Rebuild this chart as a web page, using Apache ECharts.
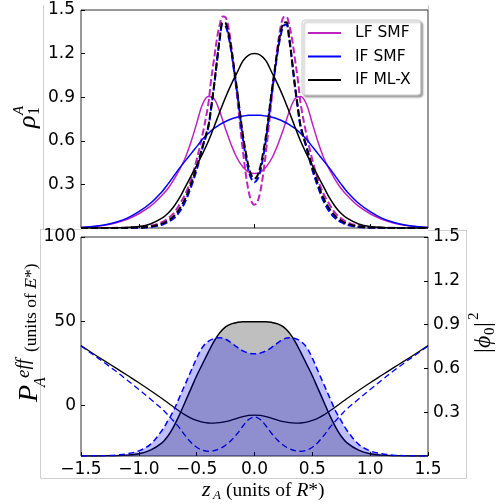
<!DOCTYPE html>
<html><head><meta charset="utf-8">
<script src="https://cdn.jsdelivr.net/npm/echarts@6/dist/echarts.min.js"></script>
<style>html,body{margin:0;padding:0;background:#fff}#c{width:496px;height:504px}</style>
</head><body><div id="c"></div>
<script>
// x grids
const zS = [-1.5,-1.4,-1.3,-1.2,-1.1,-1.0,-0.9,-0.8,-0.75,-0.7,-0.65,-0.6,-0.55,-0.5,-0.45,-0.4,-0.35,-0.3,-0.25,-0.2,-0.15,-0.1,-0.05,0,0.05,0.1,0.15,0.2,0.25,0.3,0.35,0.4,0.45,0.5,0.55,0.6,0.65,0.7,0.75,0.8,0.9,1.0,1.1,1.2,1.3,1.4,1.5];
const zD = [-1.5,-1.2,-1.0,-0.9,-0.8,-0.75,-0.7,-0.65,-0.6,-0.55,-0.5,-0.45,-0.4,-0.375,-0.35,-0.325,-0.3,-0.275,-0.25,-0.225,-0.2,-0.175,-0.15,-0.125,-0.1,-0.075,-0.05,-0.025,0,0.025,0.05,0.075,0.1,0.125,0.15,0.175,0.2,0.225,0.25,0.275,0.3,0.325,0.35,0.375,0.4,0.45,0.5,0.55,0.6,0.65,0.7,0.75,0.8,0.9,1.0,1.2,1.5];

// top panel: rho_1^A
const lfSmf = [0.003,0.008,0.018,0.035,0.06,0.098,0.15,0.225,0.27,0.33,0.40,0.48,0.59,0.72,0.85,0.905,0.89,0.8,0.68,0.57,0.48,0.42,0.385,0.375,0.385,0.42,0.48,0.57,0.68,0.8,0.89,0.905,0.85,0.72,0.59,0.48,0.40,0.33,0.27,0.225,0.15,0.098,0.06,0.035,0.018,0.008,0.003];
const ifSmf = [0.004,0.01,0.021,0.04,0.068,0.112,0.17,0.25,0.3,0.355,0.41,0.46,0.51,0.56,0.61,0.65,0.685,0.712,0.733,0.75,0.762,0.77,0.775,0.775,0.775,0.77,0.762,0.75,0.733,0.712,0.685,0.65,0.61,0.56,0.51,0.46,0.41,0.355,0.3,0.25,0.17,0.112,0.068,0.04,0.021,0.01,0.004];
const ifMl = [0,0,0.0005,0.0015,0.004,0.01,0.028,0.068,0.1,0.145,0.205,0.28,0.355,0.43,0.51,0.595,0.695,0.8,0.9,0.99,1.07,1.15,1.19,1.2,1.19,1.15,1.07,0.99,0.9,0.8,0.695,0.595,0.51,0.43,0.355,0.28,0.205,0.145,0.1,0.068,0.028,0.01,0.004,0.0015,0.0005,0,0];
const lfSmfD = [0,0.001,0.005,0.015,0.04,0.065,0.1,0.16,0.23,0.33,0.47,0.64,0.85,1.02,1.16,1.30,1.40,1.455,1.45,1.38,1.25,1.08,0.9,0.71,0.53,0.37,0.25,0.18,0.16,0.18,0.25,0.37,0.53,0.71,0.9,1.08,1.25,1.38,1.45,1.455,1.40,1.30,1.16,1.02,0.85,0.64,0.47,0.33,0.23,0.16,0.1,0.065,0.04,0.015,0.005,0.001,0];
const ifSmfD = [0,0.0003,0.002,0.007,0.022,0.04,0.065,0.11,0.18,0.28,0.40,0.55,0.69,0.82,0.97,1.14,1.30,1.40,1.39,1.32,1.21,1.07,0.93,0.77,0.61,0.49,0.39,0.335,0.315,0.335,0.39,0.49,0.61,0.77,0.93,1.07,1.21,1.32,1.39,1.40,1.30,1.14,0.97,0.82,0.69,0.55,0.40,0.28,0.18,0.11,0.065,0.04,0.022,0.007,0.002,0.0003,0];
const ifMlD = [0,0.0005,0.003,0.01,0.03,0.05,0.08,0.13,0.2,0.3,0.42,0.56,0.7,0.83,0.98,1.15,1.31,1.415,1.41,1.34,1.23,1.09,0.95,0.79,0.64,0.52,0.42,0.36,0.34,0.36,0.42,0.52,0.64,0.79,0.95,1.09,1.23,1.34,1.41,1.415,1.31,1.15,0.98,0.83,0.7,0.56,0.42,0.3,0.2,0.13,0.08,0.05,0.03,0.01,0.003,0.0005,0];

// bottom panel: |phi0|^2 (right axis) and P_A^eff (left axis)
const phiMl = [0,0,0.001,0.002,0.006,0.015,0.04,0.09,0.135,0.2,0.28,0.37,0.46,0.55,0.63,0.71,0.785,0.845,0.885,0.905,0.915,0.92,0.92,0.92,0.92,0.92,0.915,0.905,0.885,0.845,0.785,0.71,0.63,0.55,0.46,0.37,0.28,0.2,0.135,0.09,0.04,0.015,0.006,0.002,0.001,0,0];
const phiSmf = [0,0.001,0.002,0.006,0.015,0.035,0.08,0.175,0.24,0.31,0.4,0.49,0.58,0.67,0.745,0.785,0.805,0.81,0.8,0.775,0.745,0.72,0.705,0.7,0.705,0.72,0.745,0.775,0.8,0.81,0.805,0.785,0.745,0.67,0.58,0.49,0.4,0.31,0.24,0.175,0.08,0.035,0.015,0.006,0.002,0.001,0];
const potMl = [35.5,31,26.6,22.3,17.9,13.5,8.9,4.1,1.6,-0.9,-3.3,-5.6,-7.5,-8.9,-9.9,-10.4,-10.5,-10.2,-9.6,-8.7,-7.6,-6.6,-5.9,-5.7,-5.9,-6.6,-7.6,-8.7,-9.6,-10.2,-10.5,-10.4,-9.9,-8.9,-7.5,-5.6,-3.3,-0.9,1.6,4.1,8.9,13.5,17.9,22.3,26.6,31,35.5];
const potSmf = [35.3,30.4,25.5,20.4,15,9.5,3.8,-2,-5.5,-9.2,-13.2,-17.8,-21.8,-24.8,-26.6,-27.2,-26.8,-25.6,-23.6,-20.6,-16.8,-12.2,-8.3,-6.8,-8.3,-12.2,-16.8,-20.6,-23.6,-25.6,-26.8,-27.2,-26.6,-24.8,-21.8,-17.8,-13.2,-9.2,-5.5,-2,3.8,9.5,15,20.4,25.5,30.4,35.3];

// ticks
const topXTicks = [-1, 0, 1];
const leftTicks = [0, 50, 100];
const legendNames = ['LF SMF', 'IF SMF', 'IF ML-X'];

const MAG = '#bf22bf', BLU = '#0000ff', BLK = '#000000';
const zip = (xs, ys) => xs.map((x, i) => [x, ys[i]]);
const SANS = '"DejaVu Sans", sans-serif';
const SERIF = '"Liberation Serif", "DejaVu Serif", serif';
const lbl = {color: '#000', fontFamily: SANS, fontSize: 17};

function line(name, xs, ys, color, width, dash, xi, yi, extra) {
  return Object.assign({
    name, type: 'line', xAxisIndex: xi, yAxisIndex: yi, data: zip(xs, ys),
    symbol: 'none', showSymbol: false, smooth: 0.35, silent: true,
    lineStyle: {color, width, type: dash || 'solid'}, itemStyle: {color}
  }, extra || {});
}
const T = (text, x, y, font, extra) => Object.assign({type: 'text', silent: true,
  style: Object.assign({text, x, y, font, fill: '#000', align: 'left', verticalAlign: 'middle', textAlign: 'left', textVerticalAlign: 'middle'}, extra || {})});

const chart = echarts.init(document.getElementById('c'), null, {renderer: 'canvas'});
chart.setOption({
  animation: false,
  backgroundColor: '#fff',
  grid: [
    {left: 81, top: 10, width: 347, height: 218, show: true, borderColor: '#333', borderWidth: 1, backgroundColor: 'transparent'},
    {left: 81, top: 237, width: 347, height: 219, show: true, borderColor: '#333', borderWidth: 1, backgroundColor: 'transparent'}
  ],
  legend: {
    data: legendNames, orient: 'vertical', left: 302, top: 20,
    icon: 'rect', itemWidth: 33, itemHeight: 2, itemGap: 7.5,
    padding: [5, 10, 7, 6],
    backgroundColor: '#fff', borderColor: '#cccccc', borderWidth: 1, borderRadius: 3,
    shadowColor: 'rgba(0,0,0,0.35)', shadowBlur: 2, shadowOffsetX: 2, shadowOffsetY: 2,
    textStyle: {color: '#000', fontFamily: SANS, fontSize: 15.5, lineHeight: 16, padding: [0, 0, 0, 9]},
    selectedMode: false
  },
  xAxis: [
    {type: 'value', gridIndex: 0, min: -1.5, max: 1.5, position: 'bottom', axisLine: {show: false, onZero: false}, splitLine: {show: false},
      axisLabel: {show: false},
      axisTick: {show: true, inside: true, length: 4, customValues: topXTicks, lineStyle: {color: '#000'}}},
    {type: 'value', gridIndex: 1, min: -1.5, max: 1.5, interval: 0.5, position: 'bottom', axisLine: {show: false, onZero: false}, splitLine: {show: false},
      axisLabel: Object.assign({margin: 5, formatter: v => v.toFixed(1).replace('-', '\u2212')}, lbl),
      axisTick: {show: true, inside: true, length: 4, lineStyle: {color: '#000'}}}
  ],
  yAxis: [
    {type: 'value', gridIndex: 0, min: 0, max: 1.5, interval: 0.3, axisLine: {show: false, onZero: false}, splitLine: {show: false},
      axisLabel: Object.assign({margin: 6, showMinLabel: false, formatter: v => v.toFixed(1)}, lbl),
      axisTick: {show: true, inside: true, length: 4, lineStyle: {color: '#000'}}},
    {type: 'value', gridIndex: 1, min: -30, max: 100, axisLine: {show: false, onZero: false}, splitLine: {show: false},
      axisLabel: Object.assign({margin: 5, customValues: leftTicks}, lbl),
      axisTick: {show: true, inside: true, length: 4, customValues: leftTicks, lineStyle: {color: '#000'}}},
    {type: 'value', gridIndex: 1, position: 'right', min: 0, max: 1.5, interval: 0.3, axisLine: {show: false, onZero: false}, splitLine: {show: false},
      axisLabel: Object.assign({margin: 5, showMinLabel: false, formatter: v => v.toFixed(1)}, lbl),
      axisTick: {show: true, inside: true, length: 4, lineStyle: {color: '#000'}}}
  ],
  series: [
    line('LF SMF', zS, lfSmf, MAG, 1.5, null, 0, 0),
    line('LF SMF d', zD, lfSmfD, MAG, 2, [7, 3], 0, 0),
    line('IF SMF', zS, ifSmf, BLU, 1.5, null, 0, 0),
    line('IF SMF d', zD, ifSmfD, BLU, 2, [7, 3], 0, 0),
    line('IF ML-X', zS, ifMl, BLK, 1.5, null, 0, 0),
    line('IF ML-X d', zD, ifMlD, BLK, 2, [7, 3], 0, 0),
    line('P ML', zS, potMl, BLK, 1.3, null, 1, 1, {z: 1}),
    line('P SMF', zS, potSmf, BLU, 1.3, [6, 3.5], 1, 1, {z: 1}),
    line('phi ML', zS, phiMl, BLK, 1.5, null, 1, 2, {z: 3, areaStyle: {color: 'rgba(0,0,0,0.25)', opacity: 1}}),
    line('phi SMF', zS, phiSmf, BLU, 1.5, [6, 3.5], 1, 2, {z: 4, areaStyle: {color: 'rgba(0,0,255,0.25)', opacity: 1}})
  ],
  graphic: [
    // faint figure boundary lines
    {type: 'line', silent: true, shape: {x1: 43.5, y1: 5, x2: 43.5, y2: 229}, style: {stroke: '#cfcfcf', lineWidth: 1}},
    {type: 'line', silent: true, shape: {x1: 428.5, y1: 5, x2: 428.5, y2: 10}, style: {stroke: '#cfcfcf', lineWidth: 1}},
    {type: 'line', silent: true, shape: {x1: 41, y1: 229.5, x2: 81, y2: 229.5}, style: {stroke: '#cfcfcf', lineWidth: 1}},
    {type: 'line', silent: true, shape: {x1: 428, y1: 230.5, x2: 467, y2: 230.5}, style: {stroke: '#cfcfcf', lineWidth: 1}},
    {type: 'line', silent: true, shape: {x1: 40.5, y1: 229, x2: 40.5, y2: 478}, style: {stroke: '#cfcfcf', lineWidth: 1}},
    {type: 'line', silent: true, shape: {x1: 40.5, y1: 478.5, x2: 467, y2: 478.5}, style: {stroke: '#cfcfcf', lineWidth: 1}},
    {type: 'line', silent: true, shape: {x1: 466.5, y1: 230, x2: 466.5, y2: 478}, style: {stroke: '#cfcfcf', lineWidth: 1}},
    // top y-axis name: rho_1^A
    {type: 'group', x: 28, y: 128, rotation: Math.PI / 2, silent: true, children: [
      T('\u03c1', 0, 0, 'italic 26px ' + SERIF),
      T('1', 13, 7, '16px ' + SERIF),
      T('A', 13, -9, 'italic 15px ' + SERIF)
    ]},
    // bottom left y-axis name
    {type: 'group', x: 30, y: 402, rotation: Math.PI / 2, silent: true, children: [
      T('P', 0, 0, 'italic 28px ' + SERIF),
      T('A', 15, 11, 'italic 16px ' + SERIF),
      T('eff', 24, -6, 'italic 19px ' + SERIF),
      T('(units of {i|E}*)', 50, 1, '17.5px ' + SERIF, {rich: {i: {fontStyle: 'italic', fontSize: 17.5, fontFamily: SERIF, fill: '#000'}}})
    ]},
    // right y-axis name |phi0|^2
    {type: 'group', x: 484, y: 353, rotation: Math.PI / 2, silent: true, children: [
      T('|', 0, 0, '24px ' + SERIF),
      T('\u03d5', 5, 0, 'italic 24px ' + SERIF),
      T('0', 18, 6, '15px ' + SERIF),
      T('|', 26, 0, '24px ' + SERIF),
      T('2', 33, -10, '15px ' + SERIF)
    ]},
    // x-axis name
    T('z', 202, 490, 'italic 22px ' + SERIF),
    T('A', 213, 496, 'italic 13px ' + SERIF),
    T('(units of {i|R}*)', 226, 490.5, '19.5px ' + SERIF, {rich: {i: {fontStyle: 'italic', fontSize: 19.5, fontFamily: SERIF, fill: '#000'}}})
  ]
});
</script>
</body></html>
